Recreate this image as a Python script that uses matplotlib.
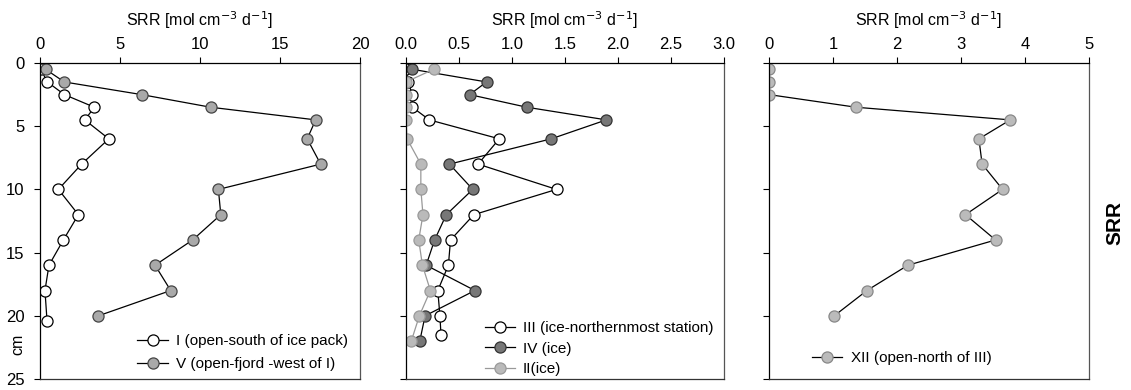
import matplotlib.pyplot as plt

plt.rcParams['font.family'] = ['Liberation Sans', 'DejaVu Sans']

# profundidades (cm) e taxas de redução de sulfato
prof_I = [0.5, 1.5, 2.5, 3.5, 4.5, 6, 8, 10, 12, 14, 16, 18, 20.4]
srr_I = [0.05, 0.46, 1.52, 3.4, 2.8, 4.3, 2.6, 1.15, 2.4, 1.46, 0.56, 0.31, 0.44]
prof_V = [0.5, 1.5, 2.5, 3.5, 4.5, 6, 8, 10, 12, 14, 16, 18, 20]
srr_V = [0.35, 1.52, 6.35, 10.67, 17.23, 16.7, 17.54, 11.15, 11.3, 9.54, 7.19, 8.17, 3.65]

prof_III = [0.5, 1.5, 2.5, 3.5, 4.5, 6, 8, 10, 12, 14, 16, 18, 20, 21.5]
srr_III = [0.0, 0.02, 0.06, 0.06, 0.22, 0.88, 0.68, 1.42, 0.64, 0.42, 0.40, 0.30, 0.32, 0.33]
prof_IV = [0.5, 1.5, 2.5, 3.5, 4.5, 6, 8, 10, 12, 14, 16, 18, 20, 22]
srr_IV = [0.06, 0.76, 0.60, 1.14, 1.89, 1.37, 0.41, 0.63, 0.38, 0.27, 0.19, 0.65, 0.18, 0.13]
prof_II = [0.5, 1.5, 2.5, 3.5, 4.5, 6, 8, 10, 12, 14, 16, 18, 20, 22]
srr_II = [0.26, 0.0, 0.0, 0.0, 0.0, 0.01, 0.14, 0.14, 0.16, 0.12, 0.155, 0.23, 0.126, 0.05]

prof_XII = [0.5, 1.5, 2.5, 3.5, 4.5, 6, 8, 10, 12, 14, 16, 18, 20]
srr_XII = [0, 0, 0, 1.36, 3.77, 3.28, 3.33, 3.65, 3.07, 3.54, 2.17, 1.53, 1.02]

fig = plt.figure(figsize=(11.31, 3.90), dpi=100)
ax1 = fig.add_axes([40/1131, 11/390, 320/1131, 316/390])
ax2 = fig.add_axes([406/1131, 11/390, 318/1131, 316/390])
ax3 = fig.add_axes([769/1131, 11/390, 320/1131, 316/390])

ms = 8
ax1.plot(srr_I, prof_I, '-o', color='black', lw=0.9, mfc='white', mec='black', ms=ms, mew=0.9,
         label='I (open-south of ice pack)')
ax1.plot(srr_V, prof_V, '-o', color='black', lw=0.9, mfc='#a9a9a9', mec='#444444', ms=ms, mew=0.9,
         label='V (open-fjord -west of I)')

ax2.plot(srr_III, prof_III, '-o', color='black', lw=0.9, mfc='white', mec='black', ms=ms, mew=0.9,
         label='III (ice-northernmost station)')
ax2.plot(srr_IV, prof_IV, '-o', color='black', lw=0.9, mfc='#777777', mec='#333333', ms=ms, mew=0.9,
         label='IV (ice)')
ax2.plot(srr_II, prof_II, '-o', color='#999999', lw=0.9, mfc='#bababa', mec='#9a9a9a', ms=ms, mew=0.9,
         label='II(ice)')

ax3.plot(srr_XII, prof_XII, '-o', color='black', lw=0.9, mfc='#bbbbbb', mec='#888888', ms=ms, mew=0.9,
         label='XII (open-north of III)')

limites = [(0, 20, [0, 5, 10, 15, 20], ['0', '5', '10', '15', '20']),
           (0, 3, [0, 0.5, 1, 1.5, 2, 2.5, 3], ['0.0', '0.5', '1.0', '1.5', '2.0', '2.5', '3.0']),
           (0, 5, [0, 1, 2, 3, 4, 5], ['0', '1', '2', '3', '4', '5'])]

for ax, (x0, x1, xt, xl) in zip([ax1, ax2, ax3], limites):
    ax.set_xlim(x0, x1)
    ax.set_ylim(25, 0)
    ax.xaxis.tick_top()
    ax.xaxis.set_label_position('top')
    ax.set_xticks(xt)
    ax.set_xticklabels(xl)
    ax.set_yticks([0, 5, 10, 15, 20, 25])
    ax.tick_params(axis='both', direction='out', length=4, width=0.8, labelsize=12)
    ax.tick_params(axis='x', pad=4)
    ax.tick_params(axis='y', pad=7)
    ax.set_xlabel('SRR [mol cm$^{-3}$ d$^{-1}$]', fontsize=11.5, labelpad=8)
    for s in ax.spines.values():
        s.set_linewidth(0.9)
    ax.spines['right'].set_color('#555555')
    ax.spines['bottom'].set_color('#333333')
    ax.patch.set_visible(False)

ax2.set_yticklabels([])
ax3.set_yticklabels([])
ax1.set_ylabel('cm', fontsize=11.5)
ax1.yaxis.set_label_coords(-0.045, 0.11)

ax1.legend(loc='lower right', bbox_to_anchor=(0.99, -0.005), frameon=False, fontsize=11,
           handlelength=2.0, handletextpad=0.5, labelspacing=0.6, borderaxespad=0.2)
ax2.legend(loc='lower right', bbox_to_anchor=(0.995, -0.02), frameon=False, fontsize=11,
           handlelength=2.0, handletextpad=0.5, labelspacing=0.42, borderaxespad=0.2)
ax3.legend(loc='lower left', bbox_to_anchor=(0.105, 0.015), frameon=False, fontsize=11,
           handlelength=2.0, handletextpad=0.6, borderaxespad=0.2)

fig.text(1115/1131, 1 - 223/390, 'SRR', rotation=90, ha='center', va='center',
         fontsize=15, fontweight='bold')

fig.savefig('out.png', dpi=100)
